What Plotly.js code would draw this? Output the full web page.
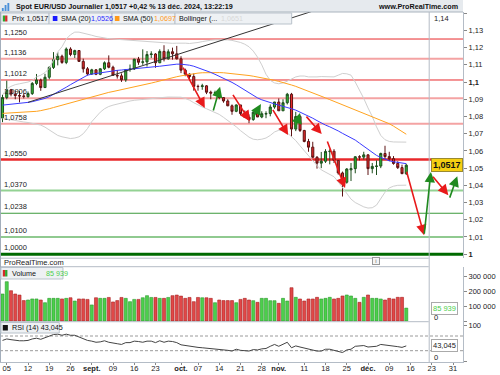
<!DOCTYPE html>
<html><head><meta charset="utf-8">
<script src="https://cdn.plot.ly/plotly-3.0.1.min.js"></script>
<style>html,body{margin:0;padding:0;background:#fff}#chart{width:500px;height:375px}</style>
</head><body><div id="chart"></div>
<script>
// ---------- DATA ----------
const dates = [
'2024-08-02','2024-08-05','2024-08-06','2024-08-07','2024-08-08','2024-08-09',
'2024-08-12','2024-08-13','2024-08-14','2024-08-15','2024-08-16',
'2024-08-19','2024-08-20','2024-08-21','2024-08-22','2024-08-23',
'2024-08-26','2024-08-27','2024-08-28','2024-08-29','2024-08-30',
'2024-09-02','2024-09-03','2024-09-04','2024-09-05','2024-09-06',
'2024-09-09','2024-09-10','2024-09-11','2024-09-12','2024-09-13',
'2024-09-16','2024-09-17','2024-09-18','2024-09-19','2024-09-20',
'2024-09-23','2024-09-24','2024-09-25','2024-09-26','2024-09-27',
'2024-09-30','2024-10-01','2024-10-02','2024-10-03','2024-10-04',
'2024-10-07','2024-10-08','2024-10-09','2024-10-10','2024-10-11',
'2024-10-14','2024-10-15','2024-10-16','2024-10-17','2024-10-18',
'2024-10-21','2024-10-22','2024-10-23','2024-10-24','2024-10-25',
'2024-10-28','2024-10-29','2024-10-30','2024-10-31','2024-11-01',
'2024-11-04','2024-11-05','2024-11-06','2024-11-07','2024-11-08',
'2024-11-11','2024-11-12','2024-11-13','2024-11-14','2024-11-15',
'2024-11-18','2024-11-19','2024-11-20','2024-11-21','2024-11-22',
'2024-11-25','2024-11-26','2024-11-27','2024-11-28','2024-11-29',
'2024-12-02','2024-12-03','2024-12-04','2024-12-05','2024-12-06',
'2024-12-09','2024-12-10','2024-12-11','2024-12-12','2024-12-13'];
const futureDates = ['2024-12-16','2024-12-17','2024-12-18','2024-12-19','2024-12-20',
'2024-12-23','2024-12-24','2024-12-26','2024-12-27','2024-12-30','2024-12-31','2025-01-02','2025-01-03'];

const open = [1.0791,1.0910,1.0955,1.0930,1.0922,1.0919,1.0915,1.0933,1.0992,1.1012,
1.0968,1.1028,1.1085,1.1130,1.1150,1.1114,1.1192,1.1160,1.1183,1.1120,
1.1077,1.1047,1.1071,1.1045,1.1077,1.1112,1.1086,1.1039,1.1036,1.1013,
1.1073,1.1076,1.1133,1.1115,1.1117,1.1160,1.1163,1.1112,1.1178,1.1135,
1.1176,1.1164,1.1135,1.1069,1.1046,1.1032,1.0975,1.0974,1.0978,1.0941,
1.0936,1.0937,1.0910,1.0890,1.0862,1.0830,1.0867,1.0817,1.0796,1.0782,
1.0825,1.0797,1.0814,1.0817,1.0855,1.0884,1.0833,1.0880,1.0929,1.0727,
1.0800,1.0719,1.0655,1.0622,1.0563,1.0529,1.0540,1.0596,1.0598,1.0545,
1.0472,1.0418,1.0490,1.0497,1.0566,1.0564,1.0577,1.0497,1.0510,1.0512,
1.0585,1.0567,1.0555,1.0527,1.0503,1.0468];
const high = [1.0927,1.1008,1.0960,1.0950,1.0948,1.0935,1.0945,1.1000,1.1047,1.1020,
1.1048,1.1092,1.1174,1.1174,1.1159,1.1201,1.1202,1.1188,1.1185,1.1136,
1.1087,1.1077,1.1075,1.1080,1.1120,1.1155,1.1095,1.1070,1.1050,1.1075,
1.1102,1.1135,1.1146,1.1190,1.1180,1.1179,1.1168,1.1190,1.1214,1.1190,
1.1200,1.1210,1.1150,1.1078,1.1050,1.1050,1.0985,1.0990,1.0982,1.0950,
1.0950,1.0945,1.0910,1.0900,1.0870,1.0870,1.0867,1.0835,1.0812,1.0830,
1.0835,1.0830,1.0830,1.0870,1.0885,1.0905,1.0900,1.0937,1.0937,1.0827,
1.0810,1.0722,1.0670,1.0653,1.0570,1.0594,1.0610,1.0610,1.0610,1.0545,
1.0480,1.0500,1.0530,1.0570,1.0575,1.0595,1.0580,1.0530,1.0545,1.0590,
1.0630,1.0595,1.0570,1.0540,1.0520,1.0525];
const low = [1.0767,1.0900,1.0917,1.0900,1.0882,1.0905,1.0910,1.0925,1.0982,1.0949,
1.0966,1.1016,1.1076,1.1097,1.1106,1.1104,1.1150,1.1140,1.1117,1.1055,
1.1038,1.1041,1.1040,1.1040,1.1070,1.1080,1.1040,1.1020,1.1001,1.1001,
1.1060,1.1070,1.1100,1.1100,1.1090,1.1140,1.1083,1.1110,1.1120,1.1130,
1.1130,1.1131,1.1052,1.1034,1.1008,1.0950,1.0950,1.0955,1.0930,1.0900,
1.0925,1.0900,1.0880,1.0860,1.0810,1.0825,1.0808,1.0793,1.0761,1.0775,
1.0798,1.0790,1.0790,1.0801,1.0845,1.0834,1.0833,1.0870,1.0682,1.0715,
1.0710,1.0650,1.0595,1.0559,1.0497,1.0500,1.0530,1.0522,1.0530,1.0462,
1.0335,1.0410,1.0425,1.0470,1.0545,1.0550,1.0460,1.0470,1.0460,1.0500,
1.0555,1.0540,1.0520,1.0495,1.0465,1.0460];
const close = [1.0910,1.0955,1.0930,1.0922,1.0919,1.0917,1.0933,1.0992,1.1012,1.0968,
1.1028,1.1085,1.1130,1.1150,1.1114,1.1192,1.1160,1.1183,1.1120,1.1077,
1.1047,1.1071,1.1045,1.1077,1.1112,1.1086,1.1039,1.1036,1.1013,1.1073,
1.1076,1.1133,1.1115,1.1117,1.1160,1.1163,1.1112,1.1178,1.1135,1.1176,
1.1164,1.1135,1.1069,1.1046,1.1032,1.0975,1.0974,1.0978,1.0941,1.0936,
1.0937,1.0910,1.0890,1.0862,1.0830,1.0867,1.0817,1.0796,1.0782,1.0825,
1.0797,1.0816,1.0817,1.0855,1.0884,1.0833,1.0880,1.0929,1.0727,1.0800,
1.0719,1.0655,1.0622,1.0563,1.0529,1.0540,1.0597,1.0598,1.0545,1.0472,
1.0418,1.0495,1.0497,1.0566,1.0564,1.0577,1.0497,1.0510,1.0512,1.0585,
1.0567,1.0555,1.0527,1.0503,1.0468,1.0517];
const volume = [180000,262000,202000,180000,173000,136000,140000,147000,147000,140000,
122000,151000,151000,151000,147000,151000,155000,133000,147000,147000,
144000,107000,155000,151000,151000,157000,127000,136000,157000,151000,
129000,144000,144000,155000,169000,157000,157000,151000,151000,157000,
169000,173000,166000,151000,157000,129000,157000,155000,155000,151000,
122000,140000,136000,136000,136000,122000,144000,151000,140000,135600,
124400,151000,151000,135600,135600,117800,151000,133300,222000,157800,
146700,133300,146700,146700,157800,146700,151000,157800,146700,151000,
166700,173300,166700,151000,124400,157800,173300,151000,151000,146700,
140000,151000,146700,157800,157800,85939];
const sma20 = [1.0866,1.0868,1.0870,1.0872,1.0875,1.0878,1.0882,1.0886,1.0892,1.0898,
1.0905,1.0915,1.0928,1.0942,1.0955,1.0970,1.0985,1.1000,1.1015,1.1030,
1.1040,1.1046,1.1050,1.1055,1.1060,1.1063,1.1065,1.1068,1.1070,1.1072,
1.1074,1.1078,1.1080,1.1081,1.1083,1.1085,1.1088,1.1092,1.1095,1.1099,
1.1102,1.1104,1.1104,1.1102,1.1098,1.1092,1.1084,1.1076,1.1066,1.1056,
1.1045,1.1034,1.1022,1.1010,1.0998,1.0984,1.0968,1.0952,1.0936,1.0922,
1.0908,1.0897,1.0888,1.0880,1.0873,1.0866,1.0860,1.0855,1.0845,1.0837,
1.0826,1.0815,1.0803,1.0790,1.0776,1.0762,1.0750,1.0740,1.0730,1.0716,
1.0702,1.0690,1.0678,1.0663,1.0645,1.0628,1.0608,1.0590,1.0574,1.0562,
1.0551,1.0543,1.0537,1.0533,1.0528,1.0526];
const sma50 = [1.0818,1.0819,1.0820,1.0821,1.0822,1.0824,1.0825,1.0827,1.0830,1.0834,
1.0838,1.0845,1.0852,1.0859,1.0866,1.0874,1.0881,1.0888,1.0895,1.0902,
1.0909,1.0916,1.0922,1.0930,1.0935,1.0940,1.0945,1.0950,1.0955,1.0960,
1.0965,1.0970,1.0976,1.0982,1.0988,1.0994,1.1000,1.1007,1.1013,1.1020,
1.1026,1.1031,1.1036,1.1041,1.1045,1.1049,1.1052,1.1054,1.1055,1.1056,
1.1056,1.1055,1.1054,1.1052,1.1050,1.1047,1.1045,1.1042,1.1038,1.1034,
1.1030,1.1026,1.1021,1.1016,1.1010,1.1004,1.0998,1.0991,1.0983,1.0975,
1.0966,1.0957,1.0948,1.0938,1.0928,1.0918,1.0908,1.0898,1.0888,1.0878,
1.0868,1.0858,1.0848,1.0838,1.0829,1.0820,1.0810,1.0800,1.0790,1.0780,
1.0769,1.0758,1.0744,1.0730,1.0714,1.0697];
const bbUpper = [1.0925,1.0960,1.0975,1.0985,1.0990,1.0995,1.1000,1.1010,1.1030,1.1040,
1.1055,1.1080,1.1130,1.1175,1.1205,1.1250,1.1275,1.1290,1.1290,1.1285,
1.1280,1.1272,1.1265,1.1260,1.1256,1.1252,1.1250,1.1248,1.1247,1.1246,
1.1245,1.1244,1.1240,1.1238,1.1235,1.1232,1.1230,1.1228,1.1227,1.1226,
1.1225,1.1226,1.1228,1.1226,1.1224,1.1226,1.1230,1.1235,1.1240,1.1243,
1.1245,1.1246,1.1246,1.1245,1.1242,1.1238,1.1230,1.1220,1.1205,1.1180,
1.1145,1.1100,1.1045,1.1010,1.0995,1.0990,1.0995,1.1005,1.1020,1.1030,
1.1035,1.1035,1.1030,1.1028,1.1030,1.1032,1.1030,1.1028,1.1030,1.1040,
1.1050,1.1048,1.1040,1.1000,1.0955,1.0905,1.0850,1.0800,1.0740,1.0690,
1.0665,1.0655,1.0652,1.0651,1.0651,1.0651];
const bbLower = [1.0790,1.0785,1.0780,1.0775,1.0772,1.0768,1.0765,1.0760,1.0755,1.0750,
1.0738,1.0722,1.0705,1.0690,1.0682,1.0675,1.0672,1.0675,1.0682,1.0700,
1.0730,1.0770,1.0800,1.0825,1.0845,1.0858,1.0866,1.0873,1.0879,1.0885,
1.0890,1.0894,1.0897,1.0900,1.0903,1.0905,1.0907,1.0909,1.0911,1.0913,
1.0914,1.0914,1.0912,1.0905,1.0895,1.0880,1.0865,1.0855,1.0845,1.0835,
1.0825,1.0812,1.0795,1.0778,1.0760,1.0740,1.0718,1.0698,1.0680,1.0668,
1.0665,1.0668,1.0675,1.0690,1.0710,1.0720,1.0718,1.0705,1.0685,1.0660,
1.0630,1.0600,1.0570,1.0545,1.0515,1.0490,1.0475,1.0462,1.0450,1.0420,
1.0385,1.0350,1.0320,1.0300,1.0285,1.0275,1.0268,1.0270,1.0285,1.0320,
1.0360,1.0385,1.0395,1.0400,1.0401,1.0401];
const rsi = [58,62,60,58,57,57,58,62,64,61,
65,70,74,75,72,75,72,72,67,63,
58,56,53,54,57,53,50,49,47,52,
52,56,55,53,56,56,52,57,53,56,
55,52,46,44,42,39,39,38,37,37,
36,34,33,31,29,34,31,29,29,33,
32,35,36,42,47,42,47,53,38,43,
40,37,35,30,29,29,34,34,31,28,
25,32,34,42,42,44,40,42,42,47,
46,45,43,41,39,43];

const levels      = [1.1250,1.1136,1.1012,1.0906,1.0758,1.0550,1.0370,1.0238,1.0100,1.0000];
const levelLabels = ['1,1250','1,1136','1,1012','1,0906','1,0758','1,0550','1,0370','1,0238','1,0100','1,0000'];
const levelKinds  = ['res','resSoft','res','resSoft','resSoft','resStrong','supSoft','sup','supMid','supStrong'];

const tickDates  = ['2024-08-05','2024-08-12','2024-08-19','2024-08-26','2024-09-02','2024-09-09','2024-09-16','2024-09-23',
                    '2024-10-01','2024-10-07','2024-10-14','2024-10-21','2024-10-28','2024-11-01','2024-11-11','2024-11-18',
                    '2024-11-25','2024-12-02','2024-12-09','2024-12-16','2024-12-23','2024-12-31'];
const tickLabels = ['05','12','19','26','<b>sept.</b>','09','16','23','<b>oct.</b>','07','14','21','28','<b>nov.</b>',
                    '11','18','25','<b>déc.</b>','09','16','23','31'];
const priceTicks = [1.14,1.13,1.12,1.11,1.10,1.09,1.08,1.07,1.06,1.05,1.04,1.03,1.02,1.01,1.00];
const priceTickText = ['1,14','1,13','1,12','1,11','<b>1,1</b>','1,09','1,08','1,07','1,06','1,05','1,04','1,03','1,02','1,01','<b>1</b>'];
const volumeTicks = [0,100000,200000,300000];
const volumeTickText = ['0','100 000','200 000','300 000'];
const rsiTicks = [0,100];
const rsiTickText = ['0','100'];

// drawn trend line (day position, price)
const trendDays   = [6, 74];
const trendPrices = [1.0882, 1.1420];
// drawn arrows: tail day, tail price, head day, head price, direction
const arrowTailDay   = [42.3, 49.5, 54.0, 58.9, 63.4, 68.8, 71.2, 76.3, 95.0, 99.2, 101.0, 105.1];
const arrowTailPrice = [1.1093,1.0826,1.0934,1.0791,1.0847,1.0727,1.0808,1.0663,1.0488,1.0110,1.0459,1.0320];
const arrowHeadDay   = [47.6, 51.2, 58.2, 60.8, 67.2, 70.0, 75.1, 80.6, 99.2, 100.8, 104.9, 107.0];
const arrowHeadPrice = [1.0849,1.0973,1.0773,1.0872,1.0692,1.0820,1.0698,1.0384,1.0110,1.0478,1.0343,1.0453];
const arrowKind      = ['down','up','down','up','down','up','down','down','down','up','down','up'];

// ---------- BUILD ----------
const F = 'Liberation Sans, Arial, sans-serif';
const W = 500, H = 375;
const X = p => p / W, Y = p => (H - p) / H;
const calendar = dates.concat(futureDates);
const day = d => calendar.indexOf(d);
const xs = dates.map(day);
const up = close.map((c, i) => c >= open[i]);

const traces = [
  {type:'candlestick', x:xs, open:open, high:high, low:low, close:close, xaxis:'x', yaxis:'y',
   increasing:{line:{color:'#1d4f1d', width:1}, fillcolor:'#31b531'},
   decreasing:{line:{color:'#5c1212', width:1}, fillcolor:'#e42a2a'},
   whiskerwidth:0, hoverinfo:'skip'},
  {type:'scatter', mode:'lines', x:xs, y:bbUpper, line:{color:'#cfcfcf', width:1}, hoverinfo:'skip'},
  {type:'scatter', mode:'lines', x:xs, y:bbLower, line:{color:'#cfcfcf', width:1}, hoverinfo:'skip'},
  {type:'scatter', mode:'lines', x:xs, y:sma50, line:{color:'#ffa31f', width:1}, hoverinfo:'skip'},
  {type:'scatter', mode:'lines', x:xs, y:sma20, line:{color:'#3b3bff', width:1}, hoverinfo:'skip'},
  {type:'scatter', mode:'lines', x:trendDays, y:trendPrices, line:{color:'#333', width:1}, hoverinfo:'skip'},
  {type:'bar', x:xs, y:volume, xaxis:'x', yaxis:'y2', width:0.72,
   marker:{color:up.map(u => u ? '#4ccf4c' : '#e04848'), line:{color:up.map(u => u ? '#2b9a2b' : '#a82222'), width:0.6}},
   hoverinfo:'skip'},
  {type:'scatter', mode:'lines', x:xs, y:rsi, xaxis:'x', yaxis:'y3', line:{color:'#444', width:1}, hoverinfo:'skip'}
];

const levelStyle = {
  res:{c:'#e8282b', w:1}, resSoft:{c:'#f4a3a3', w:2}, resStrong:{c:'#e8282b', w:2.5},
  supSoft:{c:'#93d293', w:2}, sup:{c:'#3d9a3d', w:1.2}, supMid:{c:'#6bb86b', w:1.5}, supStrong:{c:'#006a00', w:3}
};

const shapes = [];
const annotations = [];

// title bar
shapes.push({type:'rect', xref:'paper', yref:'paper', x0:0, x1:1, y0:Y(12), y1:1, fillcolor:'#e6eaee', line:{width:0}, layer:'above'});
shapes.push({type:'line', xref:'paper', yref:'paper', x0:0, x1:1, y0:Y(12), y1:Y(12), line:{color:'#aab4be', width:1}, layer:'above'});
[[2,8],[5,5],[8,3]].forEach(([x,t]) => shapes.push({type:'rect', xref:'paper', yref:'paper', x0:X(x), x1:X(x+2), y0:Y(11), y1:Y(t), fillcolor:'#4a90d9', line:{width:0}, layer:'above'}));

annotations.push({xref:'paper', yref:'paper', x:X(15), y:Y(6.5), xanchor:'left', yanchor:'middle', showarrow:false,
  text:'<b>Spot EUR/USD Journalier 1,0517 +0,42 % 13 déc. 2024, 13:22:19</b>', font:{family:F, size:7.2, color:'#111'}});
annotations.push({xref:'paper', yref:'paper', x:X(497), y:Y(6.5), xanchor:'right', yanchor:'middle', showarrow:false,
  text:'<b>www.ProRealTime.com</b>', font:{family:F, size:7.2, color:'#111'}});

// horizontal levels
levels.forEach((lv, i) => {
  const s = levelStyle[levelKinds[i]];
  shapes.push({type:'line', xref:'x domain', yref:'y', x0:0, x1:1, y0:lv, y1:lv, line:{color:s.c, width:s.w}, layer:'below'});
  annotations.push({xref:'paper', yref:'y', x:X(2), y:lv, xanchor:'left', yanchor:'bottom', showarrow:false,
    text:levelLabels[i], font:{family:F, size:7.5, color:'#222'}});
});

// arrows
arrowTailDay.forEach((td, i) => {
  const col = arrowKind[i] === 'up' ? '#1f8a1f' : '#e8191a';
  annotations.push({xref:'x', yref:'y', axref:'x', ayref:'y', x:arrowHeadDay[i], y:arrowHeadPrice[i], ax:td, ay:arrowTailPrice[i],
    text:'', showarrow:true, arrowhead:2, arrowsize:1.3, arrowwidth:1.6, arrowcolor:col, standoff:0, startstandoff:0});
});

// legend boxes
const lbox = (x0, x1, y0, y1) => shapes.push({type:'rect', xref:'paper', yref:'paper', x0:X(x0), x1:X(x1), y0:Y(y1), y1:Y(y0),
  fillcolor:'#eef1f4', line:{color:'#b9c2cb', width:1}, layer:'above'});
const sq = (x0, x1, y0, y1, c) => shapes.push({type:'rect', xref:'paper', yref:'paper', x0:X(x0), x1:X(x1), y0:Y(y1), y1:Y(y0),
  fillcolor:c, line:{width:0}, layer:'above'});
const txt = (x, y, t, c, anchor, size) => annotations.push({xref:'paper', yref:'paper', x:X(x), y:Y(y), xanchor:anchor || 'left', yanchor:'middle',
  showarrow:false, text:t, font:{family:F, size:size || 7.2, color:c || '#111'}});

lbox(1, 53, 13, 24); lbox(53, 121, 13, 24); lbox(121, 189, 13, 24); lbox(189, 315, 13, 24);
sq(3, 5.5, 15.5, 21.5, '#2fa52f'); sq(5.5, 8, 15.5, 21.5, '#d42a2a');
txt(11, 18.6, 'Prix 1,0517');
sq(57, 62, 16, 21, '#1a1aff');
txt(63.5, 18.6, 'SMA (20)'); txt(96.5, 18.6, '1,0526', '#2a2aff');
sq(124, 129, 16, 21, '#ff9a1a');
txt(131, 18.6, 'SMA (50)'); txt(164, 18.6, '1,0697', '#ff9a1a');
txt(191, 18.6, 'Bollinger (...'); txt(237, 18.6, '1,0651', '#d8d8d8');

// separators
const hline = (py, c) => shapes.push({type:'line', xref:'paper', yref:'paper', x0:0, x1:X(463), y0:Y(py), y1:Y(py), line:{color:c || '#b4bcc6', width:1}, layer:'above'});
hline(258.2); hline(266.7); hline(321.7);
shapes.push({type:'line', xref:'paper', yref:'paper', x0:X(463.5), x1:X(463.5), y0:Y(362), y1:Y(12), line:{color:'#b4bcc6', width:1}, layer:'above'});
shapes.push({type:'line', xref:'paper', yref:'paper', x0:X(0.5), x1:X(0.5), y0:Y(362), y1:Y(12), line:{color:'#9fabb8', width:1}, layer:'above'});

// strip between panels
txt(2, 262.5, 'ProRealTime.com', '#222', 'left', 7.5);
annotations.push({xref:'paper', yref:'paper', x:X(406), y:Y(260.5), xanchor:'center', yanchor:'middle', showarrow:false,
  text:'i', font:{family:F, size:6, color:'#666'}, bordercolor:'#999', borderwidth:1, borderpad:0, bgcolor:'#f4f4f4', width:6, height:6});

// volume legend
lbox(1, 68, 267.5, 279);
sq(3, 5.5, 270, 276.5, '#d42a2a'); sq(5.5, 8, 270, 276.5, '#2fa52f');
txt(11, 273.3, 'Volume'); txt(47, 273.3, '85 939', '#4ccf4c');
// rsi legend
lbox(1, 64, 322.5, 333);
sq(3, 8.5, 325, 330.5, '#111');
txt(11, 327.8, 'RSI (14) 43,045');

// RSI reference lines
[70, 30].forEach(v => shapes.push({type:'line', xref:'x domain', yref:'y3', x0:0, x1:1, y0:v, y1:v, line:{color:'#9a9a9a', width:1, dash:'3px,2px'}, layer:'below'}));

// tick labels that sit against a panel edge are nudged inside it (as the reference does)
const edgeLabel = (py, t) => annotations.push({xref:'paper', yref:'paper', x:X(467), y:Y(py), xanchor:'left', yanchor:'middle',
  showarrow:false, text:t, font:{family:F, size:7.5, color:'#222'}});
edgeLabel(19, priceTickText[0]);
edgeLabel(317, volumeTickText[0]);
edgeLabel(357.7, rsiTickText[0]);
const pTT = priceTickText.slice(); pTT[0] = '';
const vTT = volumeTickText.slice(); vTT[0] = '';
const rTT = rsiTickText.slice(); rTT[0] = '';

// right-side value labels
annotations.push({xref:'paper', yref:'y', x:X(465), y:close[close.length-1], xanchor:'left', yanchor:'middle', showarrow:false,
  text:'<b>1,0517</b>', font:{family:F, size:9, color:'#111'}, bgcolor:'#f5cf12', bordercolor:'#9a8a30', borderwidth:1, borderpad:1});
annotations.push({xref:'paper', yref:'y2', x:X(465), y:volume[volume.length-1], xanchor:'left', yanchor:'middle', showarrow:false,
  text:'85 939', font:{family:F, size:7.5, color:'#4ccf4c'}, bgcolor:'#fff', bordercolor:'#aaa', borderwidth:1, borderpad:1});
annotations.push({xref:'paper', yref:'y3', x:X(465), y:45.5, xanchor:'left', yanchor:'middle', showarrow:false,
  text:'43,045', font:{family:F, size:7.5, color:'#222'}, bgcolor:'#fff', bordercolor:'#aaa', borderwidth:1, borderpad:1});

const axBase = {showgrid:false, zeroline:false, fixedrange:true, ticks:'outside', ticklen:3, tickcolor:'#888',
  tickfont:{family:F, size:7.5, color:'#222'}, showline:true, linecolor:'#b4bcc6', linewidth:1};

const layout = {
  width:W, height:H, margin:{l:0, r:37, t:0, b:0}, paper_bgcolor:'#fff', plot_bgcolor:'#fff',
  showlegend:false, hovermode:false, separators:', ', font:{family:F, size:7.5, color:'#222'},
  xaxis:Object.assign({}, axBase, {range:[-0.588, 108.35], anchor:'y3', tickmode:'array',
    tickvals:tickDates.map(day), ticktext:tickLabels, rangeslider:{visible:false}, ticklen:2, ticklabelstandoff:-3}),
  yaxis:Object.assign({}, axBase, {domain:[Y(258.2), Y(12)], range:[0.997674, 1.1407], side:'right', anchor:'x',
    tickmode:'array', tickvals:priceTicks, ticktext:pTT}),
  yaxis2:Object.assign({}, axBase, {domain:[Y(321.7), Y(266.7)], range:[-4667, 362000], side:'right', anchor:'x',
    tickmode:'array', tickvals:volumeTicks, ticktext:vTT}),
  yaxis3:Object.assign({}, axBase, {domain:[Y(362), Y(321.7)], range:[-0.82, 109], side:'right', anchor:'x',
    tickmode:'array', tickvals:rsiTicks, ticktext:rTT}),
  shapes:shapes, annotations:annotations
};

Plotly.newPlot('chart', traces, layout, {staticPlot:true, displayModeBar:false});
</script></body></html>
